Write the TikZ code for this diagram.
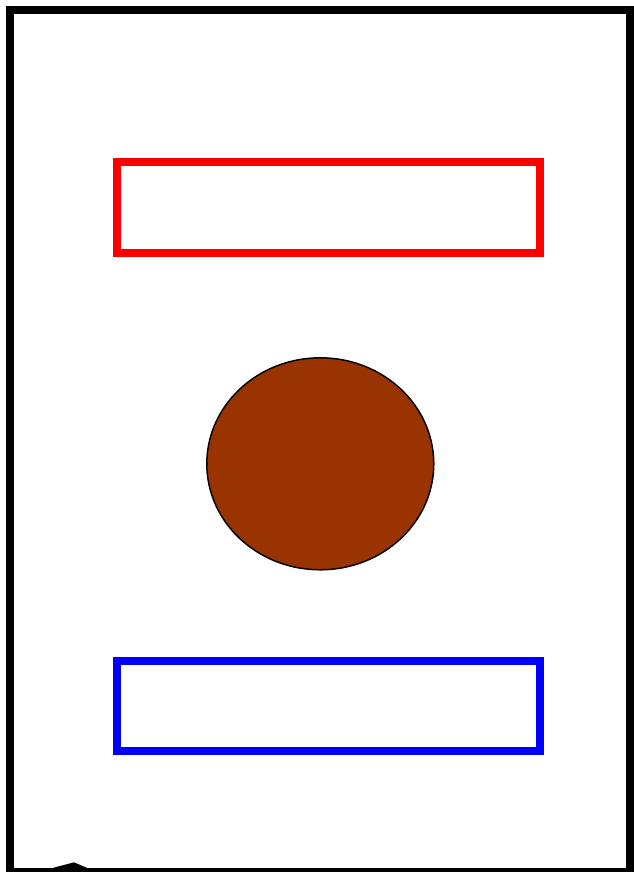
\documentclass[tikz,border=0pt]{standalone}
\usepackage{xcolor}
\definecolor{rust}{HTML}{993300}
\usepackage{tikz}
\usetikzlibrary{calc}

\begin{document}
\begin{tikzpicture}[
  x=0.75pt, y=-0.75pt,
  frame/.style={draw=black,line width=6pt},
  bar/.style={line width=6pt},
  blob/.style={draw=black,line width=1.1pt,fill=rust}]
\useasboundingbox (0,0) rectangle (633,872);
\draw[frame] (10,10) rectangle (630,872);
\draw[bar,draw=red] (116.5,162) rectangle (539.5,252.5);
\draw[blob] (320.3,463.8) ellipse [x radius=113.5, y radius=106];
\draw[bar,draw=blue] (116.5,661) rectangle (539.5,751);
\fill[black] (45,870) -- (74,862.3) -- (92,870) -- cycle;
\end{tikzpicture}
\end{document}
